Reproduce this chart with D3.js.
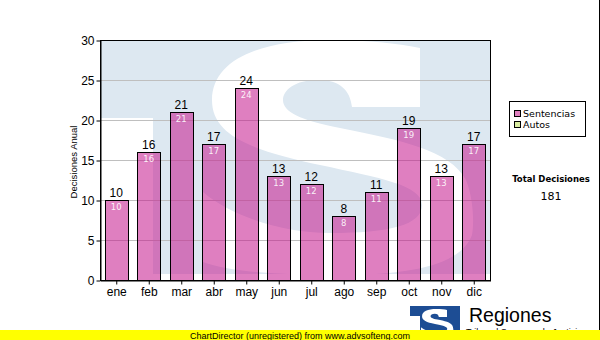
<!DOCTYPE html>
<html lang="es">
<head>
<meta charset="utf-8">
<title>Decisiones Anual</title>
<script src="https://d3js.org/d3.v7.min.js"></script>
<style>
  body { margin: 0; background: #fff; }
  svg { display: block; }
</style>
</head>
<body>
<script>
// data
const months = ["ene", "feb", "mar", "abr", "may", "jun", "jul", "ago", "sep", "oct", "nov", "dic"];
const sentencias = [10, 16, 21, 17, 24, 13, 12, 8, 11, 19, 13, 17];
const seriesNames = ["Sentencias", "Autos"];
const seriesColors = ["#e080c0", "#d8eca0"];
const yTicks = [0, 5, 10, 15, 20, 25, 30];

const W = 600, H = 340;
const plot = {left: 100, top: 40, right: 490, bottom: 280};

// S logo outline, used big as watermark and small in the footer logo
const sPath = "M 420 48 L 420 107 L 352 107 C 350 90, 340 80, 318 80 C 295 80, 283 90, 283 100 " +
  "C 283 112, 300 120, 340 128 C 400 140, 450 150, 466 180 C 474 200, 474 225, 472 235 " +
  "C 462 262, 420 275, 340 275 C 280 275, 230 272, 203 262 L 203 192 " +
  "C 230 215, 280 233, 330 233 C 390 233, 422 225, 422 205 " +
  "C 422 185, 380 178, 320 165 C 250 150, 212 135, 212 100 " +
  "C 212 60, 260 40, 330 40 C 370 40, 400 44, 420 48 Z";

const svg = d3.select("body").append("svg")
  .attr("width", W)
  .attr("height", H);

svg.append("rect").attr("width", W).attr("height", H).attr("fill", "#fff");

var x = d3.scaleBand()
  .domain(months)
  .range([plot.left, plot.right])
  .paddingInner(0.28)
  .paddingOuter(0.14);

var y = d3.scaleLinear()
  .domain([0, 30])
  .range([plot.bottom, plot.top]);

// watermark
svg.append("clipPath").attr("id", "plotClip")
  .append("rect")
  .attr("x", plot.left).attr("y", plot.top)
  .attr("width", plot.right - plot.left).attr("height", plot.bottom - plot.top);

var wm = svg.append("g").attr("clip-path", "url(#plotClip)");
wm.append("rect")
  .attr("x", plot.left).attr("y", plot.top)
  .attr("width", plot.right - plot.left).attr("height", 234)
  .attr("fill", "#dde8f1");
wm.append("rect")
  .attr("x", plot.left).attr("y", 118)
  .attr("width", 53).attr("height", 170)
  .attr("fill", "#fff");
wm.append("path").attr("d", sPath).attr("fill", "#fff");

// grid lines
svg.append("g")
  .selectAll("line")
  .data(yTicks.filter(d => d > 0 && d < 30))
  .enter().append("line")
  .attr("x1", plot.left).attr("x2", plot.right)
  .attr("y1", d => y(d) + 0.5).attr("y2", d => y(d) + 0.5)
  .attr("stroke", "#bfbfbf");

// bars
var bars = svg.append("g");
bars.selectAll(".bar")
  .data(sentencias)
  .enter().append("rect")
  .attr("class", "bar")
  .attr("x", (d, i) => Math.round(x(months[i])) + 0.5)
  .attr("y", d => y(d) + 0.5)
  .attr("width", Math.round(x.bandwidth()))
  .attr("height", d => plot.bottom - y(d))
  .attr("fill", "rgba(196,21,140,0.55)")
  .attr("stroke", "#000")
  .attr("stroke-width", 1);

// value labels above bars
bars.selectAll(".top")
  .data(sentencias)
  .enter().append("text")
  .attr("x", (d, i) => x(months[i]) + x.bandwidth() / 2)
  .attr("y", d => y(d) - 3)
  .attr("text-anchor", "middle")
  .style("font-family", "'Liberation Sans', Arial, sans-serif")
  .style("font-size", "12px")
  .attr("fill", "#000")
  .text(d => d);

// value labels inside bars
bars.selectAll(".inner")
  .data(sentencias)
  .enter().append("text")
  .attr("x", (d, i) => x(months[i]) + x.bandwidth() / 2)
  .attr("y", d => y(d) + 10)
  .attr("text-anchor", "middle")
  .style("font-family", "'DejaVu Sans', Verdana, sans-serif")
  .style("font-size", "8.5px")
  .attr("fill", "#fff")
  .attr("fill-opacity", 0.9)
  .text(d => d);

// frame
svg.append("rect")
  .attr("x", plot.left + 0.5).attr("y", plot.top + 0.5)
  .attr("width", plot.right - plot.left).attr("height", plot.bottom - plot.top)
  .attr("fill", "none").attr("stroke", "#000");

// axes
var yAxis = svg.append("g")
  .attr("transform", "translate(" + (plot.left + 0.5) + ",0.5)")
  .call(d3.axisLeft(y).tickValues(yTicks).tickSize(4).tickSizeOuter(0).tickPadding(2));

var xAxis = svg.append("g")
  .attr("transform", "translate(0.5," + (plot.bottom + 0.5) + ")")
  .call(d3.axisBottom(x).tickSize(4).tickSizeOuter(0).tickPadding(3));

[yAxis, xAxis].forEach(function(a) {
  a.select(".domain").attr("stroke", "#000");
  a.selectAll(".tick line").attr("stroke", "#000");
  a.selectAll(".tick text")
    .attr("fill", "#000")
    .style("font-family", "'Liberation Sans', Arial, sans-serif")
    .style("font-size", "12px");
});

svg.append("text")
  .attr("transform", "translate(77,162) rotate(-90)")
  .attr("text-anchor", "middle")
  .style("font-family", "'Liberation Sans', Arial, sans-serif")
  .style("font-size", "9.5px")
  .text("Decisiones Anual");

// legend
var legend = svg.append("g");
legend.append("rect")
  .attr("x", 509.5).attr("y", 101.5)
  .attr("width", 76).attr("height", 35)
  .attr("fill", "#fff").attr("stroke", "#000");

var item = legend.selectAll(".item")
  .data(seriesNames)
  .enter().append("g")
  .attr("transform", (d, i) => "translate(514," + (110 + i * 11) + ")");
item.append("rect")
  .attr("x", 0.5).attr("y", 0.5)
  .attr("width", 6).attr("height", 6)
  .attr("fill", (d, i) => seriesColors[i])
  .attr("stroke", "#000");
item.append("text")
  .attr("x", 9).attr("y", 7)
  .style("font-family", "'DejaVu Sans', Verdana, sans-serif")
  .style("font-size", "9.5px")
  .text(d => d);

svg.append("text")
  .attr("x", 551).attr("y", 182)
  .attr("text-anchor", "middle")
  .style("font-family", "'DejaVu Sans', Verdana, sans-serif")
  .style("font-size", "8.5px")
  .style("font-weight", "bold")
  .text("Total Decisiones");

svg.append("text")
  .attr("x", 551).attr("y", 200)
  .attr("text-anchor", "middle")
  .style("font-family", "'DejaVu Sans', Verdana, sans-serif")
  .style("font-size", "11px")
  .text(d3.sum(sentencias));

// footer logo
var logo = svg.append("g");
logo.append("rect").attr("x", 410).attr("y", 306).attr("width", 50).attr("height", 30).attr("fill", "#1d4d94");
logo.append("rect").attr("x", 410).attr("y", 316).attr("width", 10).attr("height", 20).attr("fill", "#fff");
logo.append("path").attr("d", sPath).attr("fill", "#fff")
  .attr("transform", "translate(396.6,304.2) scale(0.12)");
logo.append("text")
  .attr("x", 469).attr("y", 322)
  .style("font-family", "'Liberation Sans', Arial, sans-serif")
  .style("font-size", "19.5px")
  .text("Regiones");
logo.append("text")
  .attr("x", 466).attr("y", 335)
  .style("font-family", "'Liberation Sans', Arial, sans-serif")
  .style("font-size", "9px")
  .text("Tribunal Supremo de Justicia");

// right edge line
svg.append("line")
  .attr("x1", 599.5).attr("x2", 599.5)
  .attr("y1", 0).attr("y2", 330)
  .attr("stroke", "#000");

// unregistered banner
svg.append("rect").attr("x", 0).attr("y", 330).attr("width", W).attr("height", 10).attr("fill", "#ffff00");
svg.append("text")
  .attr("x", 300).attr("y", 338.5)
  .attr("text-anchor", "middle")
  .style("font-family", "'Liberation Sans', Arial, sans-serif")
  .style("font-size", "9px")
  .text("ChartDirector (unregistered) from www.advsofteng.com");
</script>
</body>
</html>
